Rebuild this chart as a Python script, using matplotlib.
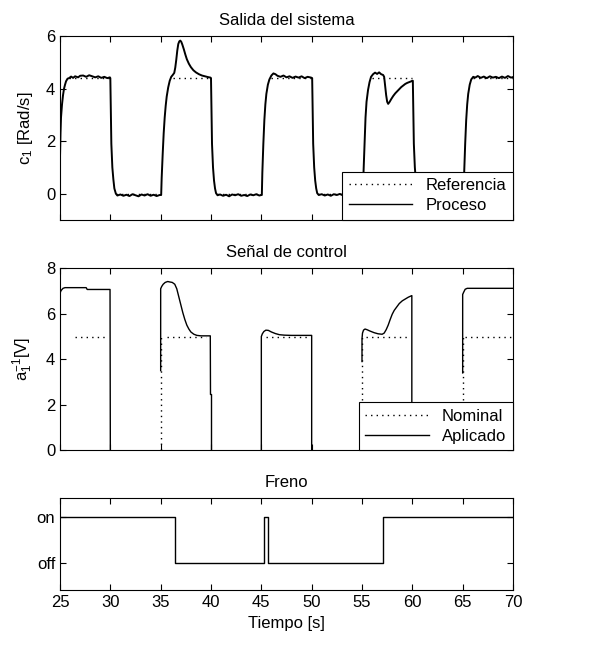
import numpy as np
import matplotlib
matplotlib.use('agg')
import matplotlib.pyplot as plt

plt.rcParams['font.family'] = ['Liberation Sans Narrow', 'Liberation Sans', 'DejaVu Sans']
plt.rcParams['mathtext.default'] = 'regular'
plt.rcParams['font.size'] = 12

# ---- Salida del sistema (process speed) ----
proc_t = [25.0, 25.05, 25.1, 25.2, 25.3, 25.4, 25.5, 25.6, 25.75, 25.9, 26.1, 26.3, 26.5, 26.8,
          27.0, 27.3, 27.6, 27.9, 28.2, 28.5, 28.8, 29.1, 29.4, 29.7, 29.95,
          30.0, 30.05, 30.1, 30.2, 30.3, 30.4, 30.55, 30.7, 31.0, 31.3, 31.6, 31.9, 32.2, 32.5,
          32.8, 33.1, 33.4, 33.7, 34.0, 34.3, 34.6, 34.9,
          35.05, 35.1, 35.2, 35.3, 35.4, 35.5, 35.6, 35.75, 35.9, 36.05, 36.2, 36.35, 36.45, 36.55,
          36.65, 36.75, 36.85, 36.95, 37.05, 37.15, 37.3, 37.45, 37.6, 37.8, 38.0, 38.25, 38.5,
          38.8, 39.1, 39.4, 39.7, 39.95,
          40.0, 40.05, 40.1, 40.2, 40.3, 40.4, 40.5, 40.65, 40.9, 41.2, 41.5, 41.8, 42.1, 42.4,
          42.7, 43.0, 43.3, 43.6, 43.9, 44.2, 44.5, 44.8, 45.0,
          45.05, 45.1, 45.2, 45.3, 45.4, 45.5, 45.65, 45.8, 46.0, 46.2, 46.4, 46.6, 46.9, 47.2,
          47.5, 47.8, 48.1, 48.4, 48.7, 49.0, 49.3, 49.6, 49.95,
          50.05, 50.1, 50.15, 50.25, 50.35, 50.45, 50.55, 50.7, 51.0, 51.3, 51.6, 51.9, 52.2,
          52.5, 52.8, 53.1, 53.4, 53.7, 54.0, 54.3, 54.6, 54.9, 55.05,
          55.1, 55.15, 55.25, 55.35, 55.45, 55.6, 55.75, 55.9, 56.1, 56.3, 56.5, 56.7, 56.9,
          57.1, 57.2, 57.3, 57.4, 57.5, 57.6, 57.75, 57.9, 58.1, 58.3, 58.5, 58.7, 58.9, 59.1,
          59.3, 59.5, 59.7, 59.9, 60.0,
          60.05, 60.1, 60.15, 60.25, 60.35, 60.45, 60.55, 60.7, 61.0, 61.3, 61.6, 61.9, 62.2,
          62.5, 62.8, 63.1, 63.4, 63.7, 64.0, 64.3, 64.6, 64.9, 65.05,
          65.1, 65.15, 65.25, 65.35, 65.45, 65.55, 65.7, 65.85, 66.05, 66.25, 66.5, 66.8, 67.1,
          67.4, 67.7, 68.0, 68.3, 68.6, 68.9, 69.2, 69.5, 69.8, 70.0]
proc_y = [1.4, 2.3, 2.9, 3.4, 3.75, 4.0, 4.15, 4.28, 4.38, 4.4, 4.46, 4.41, 4.47, 4.43,
          4.49, 4.5, 4.45, 4.51, 4.47, 4.43, 4.47, 4.41, 4.45, 4.4, 4.43,
          4.4, 3.0, 1.9, 1.0, 0.55, 0.2, 0.0, -0.07, -0.03, -0.08, -0.04, -0.09, -0.02, -0.06,
          -0.1, -0.03, -0.07, -0.02, -0.08, -0.04, -0.09, -0.05,
          -0.05, 0.6, 1.5, 2.3, 2.9, 3.35, 3.7, 4.05, 4.3, 4.45, 4.52, 4.6, 4.8, 5.1,
          5.45, 5.7, 5.8, 5.83, 5.78, 5.68, 5.5, 5.3, 5.12, 4.95, 4.82, 4.7, 4.62,
          4.55, 4.5, 4.47, 4.44, 4.42,
          4.4, 3.0, 1.9, 1.0, 0.5, 0.2, 0.02, -0.06, -0.03, -0.08, -0.04, -0.1, -0.03, -0.06,
          -0.02, -0.08, -0.05, -0.09, -0.03, -0.06, -0.02, -0.07, -0.05,
          -0.05, 0.8, 1.9, 2.8, 3.4, 3.8, 4.15, 4.35, 4.5, 4.58, 4.55, 4.49, 4.45, 4.5,
          4.43, 4.47, 4.41, 4.46, 4.42, 4.47, 4.4, 4.45, 4.42,
          4.4, 3.0, 1.9, 1.0, 0.5, 0.2, 0.02, -0.05, -0.02, -0.07, -0.03, -0.08, -0.02, -0.05,
          -0.01, -0.06, -0.03, -0.08, -0.02, -0.05, -0.03, -0.06, -0.04,
          -0.04, 0.8, 1.9, 2.9, 3.5, 3.95, 4.25, 4.45, 4.55, 4.61, 4.56, 4.62, 4.55,
          4.52, 4.45, 4.1, 3.75, 3.5, 3.42, 3.5, 3.6, 3.72, 3.82, 3.9, 3.98, 4.06, 4.12,
          4.18, 4.22, 4.25, 4.28, 4.3,
          4.3, 3.0, 1.9, 1.0, 0.5, 0.2, 0.02, -0.05, -0.02, -0.07, -0.03, -0.08, -0.02, -0.06,
          -0.03, -0.07, -0.02, -0.05, -0.08, -0.03, -0.06, -0.02, -0.05,
          -0.05, 0.8, 1.9, 2.8, 3.4, 3.8, 4.15, 4.35, 4.45, 4.42, 4.48, 4.41, 4.46,
          4.4, 4.47, 4.42, 4.45, 4.4, 4.46, 4.41, 4.48, 4.42, 4.44]

# reference is only seen where the process leaves it
ref_t = [25.9, 30.0, np.nan, 30.6, 35.0, np.nan, 36.2, 40.0, np.nan, 40.6, 45.0, np.nan,
         46.0, 50.0, np.nan, 50.6, 55.0, np.nan, 56.0, 60.0, np.nan, 60.6, 65.0, np.nan, 66.0, 70.0]
ref_y = [4.4, 4.4, np.nan, 0, 0, np.nan, 4.4, 4.4, np.nan, 0, 0, np.nan,
         4.4, 4.4, np.nan, 0, 0, np.nan, 4.4, 4.4, np.nan, 0, 0, np.nan, 4.4, 4.4]

# ---- Senal de control ----
apl_t = [25.0, 25.1, 25.3, 25.5, 27.6, 27.7, 29.97, 30.0, np.nan,
         35.0, 35.0, 35.1, 35.25, 35.45, 35.7, 35.9, 36.15, 36.4, 36.6, 36.8, 37.0, 37.2,
         37.4, 37.6, 37.8, 38.0, 38.3, 38.6, 39.0, 39.5, 39.93, 39.95, 40.05, 40.05, np.nan,
         45.0, 45.0, 45.1, 45.25, 45.45, 45.7, 46.0, 46.4, 46.8, 47.3, 48.0, 49.0, 50.0, 50.0, np.nan,
         55.0, 55.0, 55.05, 55.15, 55.3, 55.5, 55.8, 56.2, 56.6, 57.0, 57.2, 57.4, 57.6, 57.8,
         58.0, 58.2, 58.45, 58.7, 59.0, 59.3, 59.6, 59.95, 59.95, np.nan,
         65.0, 65.0, 65.1, 65.25, 65.45, 70.0]
apl_y = [6.9, 7.02, 7.12, 7.15, 7.15, 7.07, 7.07, 0, np.nan,
         3.5, 7.1, 7.2, 7.3, 7.38, 7.42, 7.4, 7.38, 7.3, 7.1, 6.75, 6.4, 6.05,
         5.75, 5.5, 5.33, 5.2, 5.1, 5.05, 5.03, 5.03, 5.03, 2.45, 2.45, 0, np.nan,
         0, 5.0, 5.12, 5.22, 5.28, 5.27, 5.2, 5.13, 5.08, 5.06, 5.05, 5.05, 5.05, 0, np.nan,
         3.9, 4.9, 5.15, 5.28, 5.33, 5.3, 5.24, 5.17, 5.12, 5.1, 5.15, 5.3, 5.5, 5.75,
         5.98, 6.15, 6.3, 6.45, 6.57, 6.65, 6.73, 6.8, 0, np.nan,
         3.4, 6.85, 6.95, 7.08, 7.12, 7.12]

nom_t = [26.5, 29.6, np.nan, 35.0, 35.0, np.nan, 35.6, 39.5, np.nan, 45.5, 49.6, np.nan,
         55.0, 55.0, np.nan, 55.4, 59.5, np.nan, 65.0, 65.0, np.nan, 65.2, 70.0]
nom_y = [5, 5, np.nan, 0, 5, np.nan, 5, 5, np.nan, 5, 5, np.nan,
         0, 5, np.nan, 5, 5, np.nan, 0, 5, np.nan, 5, 5]

# ---- Freno ----
freno_t = [25, 36.4, 45.25, 45.7, 57.1, 70]
freno_s = [1, 0, 1, 0, 1, 1]

dots = (0, (1, 3))

fig = plt.figure(figsize=(6, 6.45), dpi=100)
ax1 = fig.add_axes([0.1, 0.659, 0.755, 0.285])
ax2 = fig.add_axes([0.1, 0.302, 0.755, 0.282])
ax3 = fig.add_axes([0.1, 0.085, 0.755, 0.143])

def matlab_look(ax):
    ax.set_xlim(25, 70)
    ax.set_xticks(range(25, 71, 5))
    ax.tick_params(direction='in', top=True, right=True, length=4, width=0.8, labelsize=12)
    for s in ax.spines.values():
        s.set_linewidth(0.8)

ax1.plot(ref_t, ref_y, color='k', lw=1.0, ls=dots, label='Referencia')
ax1.plot(proc_t, proc_y, color='k', lw=1.4, label='Proceso')
matlab_look(ax1)
ax1.set_ylim(-1, 6)
ax1.set_yticks([0, 2, 4, 6])
ax1.set_xticklabels([])
ax1.set_ylabel('c$_1$ [Rad/s]', labelpad=8)
ax1.set_title('Salida del sistema', fontsize=12, pad=8)
leg = ax1.legend(loc='lower right', borderaxespad=0, fancybox=False, edgecolor='k',
                 framealpha=1, handlelength=3.8, fontsize=12, labelspacing=0.3)
leg.get_frame().set_linewidth(0.8)
leg.get_lines()[1].set_linewidth(1.0)

ax2.plot(nom_t, nom_y, color='k', lw=1.0, ls=dots, label='Nominal')
ax2.plot(apl_t, apl_y, color='k', lw=1.0, label='Aplicado')
matlab_look(ax2)
ax2.set_ylim(0, 8)
ax2.set_yticks([0, 2, 4, 6, 8])
ax2.set_xticklabels([])
ax2.set_ylabel('a$_1^{-1}$[V]', labelpad=8)
ax2.set_title('Señal de control', fontsize=12, pad=8)
leg = ax2.legend(loc='lower right', borderaxespad=0, fancybox=False, edgecolor='k',
                 framealpha=1, handlelength=3.8, fontsize=12, labelspacing=0.3)
leg.get_frame().set_linewidth(0.8)

ax3.plot(freno_t, freno_s, color='k', lw=1.0, drawstyle='steps-post')
matlab_look(ax3)
ax3.set_ylim(-0.58, 1.4)
ax3.set_yticks([0, 1])
ax3.set_yticklabels(['off', 'on'])
ax3.set_xlabel('Tiempo [s]', fontsize=12)
ax3.set_title('Freno', fontsize=12, pad=8)

fig.savefig('out.png', dpi=100)
